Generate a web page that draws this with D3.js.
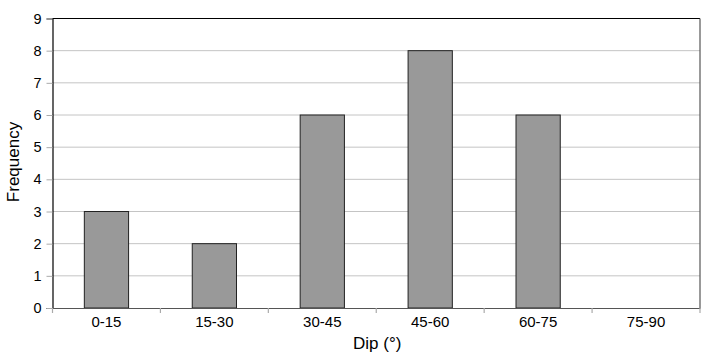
<!DOCTYPE html>
<html><head><meta charset="utf-8">
<script src="https://cdn.jsdelivr.net/npm/d3@7"></script>
<style>body{margin:0;background:#fff}svg{display:block}text{font-family:"Liberation Sans",Arial,Helvetica,sans-serif}</style>
</head><body><svg id="c" width="713" height="357"></svg>
<script>
const categories = ["0-15","15-30","30-45","45-60","60-75","75-90"];
const frequency = [3,2,6,8,6,0];
const yTicks = [0,1,2,3,4,5,6,7,8,9];

const svg = d3.select("#c");
const m = {l:52.5, r:700, t:18.5, b:308};
const x = d3.scaleBand().domain(categories).range([m.l, m.r]).paddingInner(0).paddingOuter(0);
const y = d3.scaleLinear().domain([0,9]).range([m.b, m.t]);

// gridlines
svg.append("g").selectAll("line").data(yTicks.filter(d=>d>0 && d<9)).join("line")
  .attr("x1", m.l).attr("x2", m.r).attr("y1", d=>y(d)).attr("y2", d=>y(d))
  .attr("stroke", "#c4c4c4").attr("stroke-width", 1);

// bars
const bw = x.bandwidth()*0.41;
svg.append("g").selectAll("rect").data(categories.map((c,i)=>({c,v:frequency[i]})).filter(d=>d.v>0)).join("rect")
  .attr("x", d=>x(d.c)+x.bandwidth()/2-bw/2).attr("width", bw)
  .attr("y", d=>y(d.v)).attr("height", d=>y(0)-y(d.v))
  .attr("fill", "#999999").attr("stroke", "#222").attr("stroke-width", 1);

// frame
svg.append("line").attr("x1", m.l).attr("x2", m.r).attr("y1", m.t).attr("y2", m.t).attr("stroke","#000").attr("stroke-width",1.2);
svg.append("line").attr("x1", m.r).attr("x2", m.r).attr("y1", m.t).attr("y2", m.b).attr("stroke","#555").attr("stroke-width",1.2);

// y axis
const ya = svg.append("g").attr("transform", `translate(${m.l},0)`)
  .call(d3.axisLeft(y).tickValues(yTicks).tickSize(6).tickPadding(5).tickFormat(d3.format("d")));
ya.select(".domain").attr("stroke","#000").attr("stroke-width",1.2);
ya.selectAll(".tick line").attr("stroke","#aaa");
ya.selectAll("text").attr("font-size",14.5).attr("fill","#000").style("font-family","Liberation Sans, Arial, sans-serif");

// x axis
const xa = svg.append("g").attr("transform", `translate(0,${m.b})`)
  .call(d3.axisBottom(x).tickSize(0).tickPadding(8.5));
xa.select(".domain").attr("stroke","#555").attr("stroke-width",1.2);
xa.selectAll("text").attr("font-size",15).attr("fill","#000").style("font-family","Liberation Sans, Arial, sans-serif");
// boundary ticks
const bounds = categories.map(c=>x(c)).concat([m.r]);
svg.append("g").selectAll("line").data(bounds).join("line")
  .attr("x1", d=>d).attr("x2", d=>d).attr("y1", m.b).attr("y2", m.b+5)
  .attr("stroke","#aaa").attr("stroke-width",1.2);

// titles
svg.append("text").attr("x", (m.l+m.r)/2 + 1).attr("y", 348.5).attr("text-anchor","middle")
  .attr("font-size",17).text("Dip (°)");
svg.append("text").attr("transform", `translate(18.5,162) rotate(-90)`).attr("text-anchor","middle")
  .attr("font-size",17).text("Frequency");
</script></body></html>
